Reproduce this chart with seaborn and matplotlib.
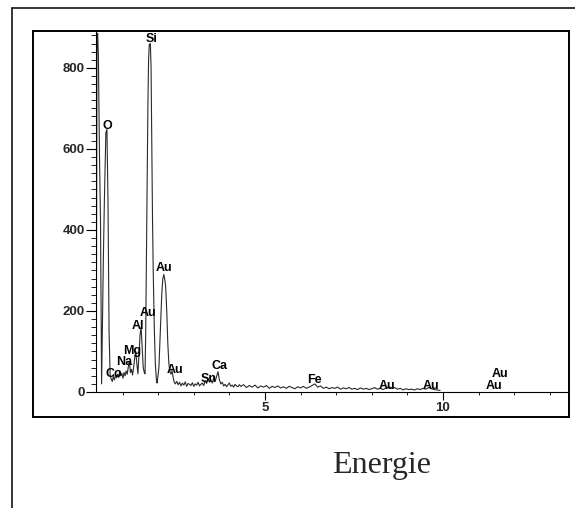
import numpy as np
import pandas as pd
import seaborn as sns
import matplotlib.pyplot as plt
from matplotlib.patches import Rectangle
from matplotlib.lines import Line2D
from matplotlib.ticker import MultipleLocator

# EDS spectrum: energy in keV, counts
# low energy noise peak + O peak
e_low = [0.26, 0.28, 0.30, 0.32, 0.35, 0.38, 0.41,
         0.46, 0.49, 0.53, 0.56, 0.59, 0.62, 0.65]
c_low = [15, 870, 885, 830, 590, 420, 20,
         330, 480, 640, 648, 470, 150, 42]

# Co / Na / Mg / Al region
e_mid = [0.68, 0.71, 0.74, 0.77, 0.80, 0.83, 0.86, 0.89, 0.92, 0.95,
         0.98, 1.01, 1.04, 1.07, 1.10, 1.13, 1.16, 1.19, 1.22, 1.25,
         1.28, 1.31, 1.34, 1.37, 1.40, 1.43, 1.46, 1.49, 1.52, 1.55,
         1.58, 1.61]
c_mid = [32, 26, 38, 30, 42, 35, 44, 36, 52, 40,
         46, 34, 48, 40, 52, 44, 62, 75, 48, 56,
         42, 60, 85, 100, 70, 45, 90, 140, 160, 110,
         60, 48]

# Si peak
e_si = [1.63, 1.65, 1.67, 1.69, 1.71, 1.73, 1.75, 1.78, 1.80, 1.82,
        1.84, 1.86, 1.89, 1.92, 1.95]
c_si = [45, 150, 330, 500, 700, 820, 858, 860, 800, 600,
        430, 300, 160, 70, 30]

# Au M peaks
e_au = [1.97, 2.02, 2.06, 2.10, 2.13, 2.16, 2.19, 2.21, 2.24, 2.27,
        2.30, 2.33, 2.36, 2.39, 2.42, 2.45, 2.48]
c_au = [22, 60, 150, 240, 280, 290, 275, 260, 200, 120,
        70, 50, 44, 52, 36, 24, 20]

# background, Sn, Ca
e_bg1 = [2.52, 2.56, 2.60, 2.64, 2.68, 2.72, 2.76, 2.80, 2.84, 2.88,
         2.92, 2.96, 3.00, 3.04, 3.08, 3.12, 3.16, 3.20, 3.24, 3.28,
         3.32, 3.36, 3.40, 3.44, 3.48, 3.52, 3.56, 3.60, 3.64, 3.68,
         3.72, 3.76, 3.80, 3.84, 3.88, 3.92, 3.96, 4.00, 4.04, 4.08,
         4.12, 4.16, 4.20, 4.24, 4.28]
c_bg1 = [26, 18, 24, 15, 22, 17, 25, 14, 21, 19,
         16, 23, 14, 20, 17, 24, 15, 19, 22, 16,
         28, 21, 33, 24, 30, 22, 35, 26, 38, 50,
         30, 20, 24, 15, 19, 13, 18, 22, 14, 17,
         12, 19, 15, 13, 18]

# background up to 10 keV, Fe and Au L
e_bg2 = [4.32, 4.40, 4.48, 4.56, 4.64, 4.72, 4.80, 4.88, 4.96, 5.04,
         5.12, 5.20, 5.28, 5.36, 5.44, 5.52, 5.60, 5.68, 5.76, 5.84,
         5.92, 6.00, 6.08, 6.16, 6.24, 6.32, 6.40, 6.48, 6.56, 6.64,
         6.72, 6.80, 6.88, 6.96, 7.04, 7.12, 7.20, 7.28, 7.36, 7.44,
         7.52, 7.60, 7.68, 7.76, 7.84, 7.92, 8.00, 8.08, 8.16, 8.24,
         8.32, 8.40, 8.48, 8.56, 8.64, 8.72, 8.80, 8.88, 8.96, 9.04,
         9.12, 9.20, 9.28, 9.36, 9.44, 9.52, 9.60, 9.68, 9.76, 9.84,
         9.92]
c_bg2 = [14, 18, 11, 16, 12, 17, 10, 15, 12, 16,
         9, 14, 11, 15, 10, 13, 9, 14, 11, 8,
         13, 10, 14, 9, 12, 16, 20, 12, 15, 9,
         12, 8, 11, 9, 12, 7, 10, 8, 11, 7,
         9, 6, 10, 7, 9, 6, 8, 11, 7, 9,
         6, 10, 13, 9, 11, 7, 9, 5, 8, 6,
         7, 5, 8, 6, 9, 7, 11, 8, 6, 5,
         4]

# peak labels
lab_text = ['Si', 'O', 'Co', 'Na', 'Mg', 'Al', 'Au', 'Au', 'Au', 'Sn',
            'Ca', 'Fe', 'Au', 'Au', 'Au', 'Au']
lab_e = [1.81, 0.56, 0.76, 1.05, 1.26, 1.44, 1.70, 2.17, 2.46, 3.42,
         3.72, 6.39, 8.42, 9.67, 11.59, 11.42]
lab_c = [864, 649, 37, 67, 95, 155, 188, 299, 47, 25,
         57, 22, 7, 7, 37, 7]

y_ticks = [0, 200, 400, 600, 800]
x_ticks = [5, 10]

sns.set_theme(style='ticks')
plt.rcParams['font.family'] = ['Liberation Sans', 'DejaVu Sans']

df = pd.DataFrame({
    'E': np.concatenate([e_low, e_mid, e_si, e_au, e_bg1, e_bg2]),
    'C': np.concatenate([c_low, c_mid, c_si, c_au, c_bg1, c_bg2]),
})

W, H = 575, 508
fig = plt.figure(figsize=(W / 100, H / 100), dpi=100)
fig.patch.set_facecolor('white')
ax = fig.add_axes([96 / W, 1 - 392 / H, (569 - 96) / W, (392 - 31) / H])

sns.lineplot(data=df, x='E', y='C', ax=ax, estimator=None, sort=False,
             color='#2a2a2a', lw=0.8)

ax.set_xlim(0.253, 13.54)
ax.set_ylim(0, 891)
ax.set_xlabel('')
ax.set_ylabel('')
ax.set_xticks(x_ticks)
ax.set_yticks(y_ticks)
ax.xaxis.set_minor_locator(MultipleLocator(1))
ax.yaxis.set_minor_locator(MultipleLocator(20))
ax.tick_params(axis='y', which='major', length=7.5, width=0.8, pad=0.5,
               labelsize=9.5, color='black')
ax.tick_params(axis='y', which='minor', length=3.5, width=0.6, color='black')
ax.tick_params(axis='x', which='major', length=6, width=0.8, pad=1,
               labelsize=9.5, color='black')
ax.tick_params(axis='x', which='minor', length=2.5, width=0.6, color='black')
for lbl in ax.get_xticklabels() + ax.get_yticklabels():
    lbl.set_fontweight('bold')

sns.despine(ax=ax, top=True, right=True)
for s in ['left', 'bottom']:
    ax.spines[s].set_linewidth(0.8)
    ax.spines[s].set_color('black')
ax.set_facecolor('white')

for t, xe, yc in zip(lab_text, lab_e, lab_c):
    ax.text(xe, yc, t, ha='center', va='baseline', fontsize=9,
            fontweight='bold', color='black')

# inner frame around the plot
fig.add_artist(Rectangle((33 / W, 1 - 417 / H), (569 - 33) / W, (417 - 31) / H,
                         transform=fig.transFigure, fill=False, lw=1.4,
                         ec='black'))
# outer frame (cut by the image edge)
fig.add_artist(Line2D([12 / W, 12 / W], [0, 1 - 8 / H], transform=fig.transFigure,
                      color='black', lw=1.1))
fig.add_artist(Line2D([12 / W, 1], [1 - 8 / H, 1 - 8 / H], transform=fig.transFigure,
                      color='black', lw=1.1))

fig.text(381.5 / W, 1 - 473 / H, 'Energie', ha='center', va='baseline',
         family=['Liberation Serif', 'DejaVu Serif'], fontsize=23)

fig.savefig('out.png', dpi=100)
